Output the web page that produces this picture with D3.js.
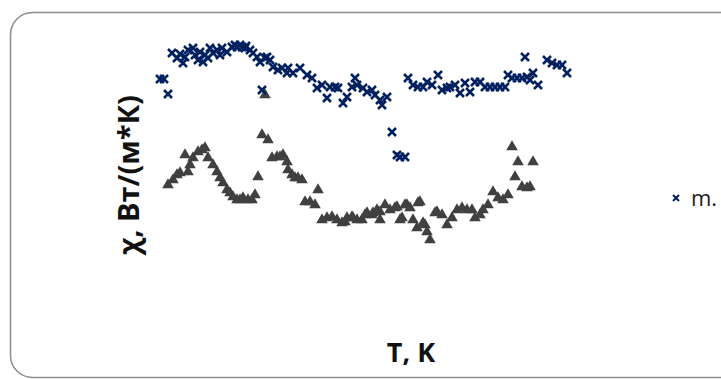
<!DOCTYPE html>
<html>
<head>
<meta charset="utf-8">
<script src="https://cdn.jsdelivr.net/npm/d3@7"></script>
<style>
  body { margin: 0; background: #fff; overflow: hidden; }
  svg { display: block; }
</style>
</head>
<body>
<div id="chart"></div>
<script>
// temperature, K and conductivity, W/(m*K)
const blueT = [230, 234, 238, 242, 247, 250, 253, 255, 258, 263,
  265, 268, 270, 273, 275, 278, 280, 283, 287, 290,
  292, 297, 302, 305, 307, 310, 312, 315, 316, 320,
  323, 327, 330, 332, 335, 337, 340, 343, 348, 352,
  357, 358, 363, 370, 377, 382, 387, 392, 397, 400,
  405, 408, 413, 417, 422, 425, 427, 433, 437, 442,
  445, 450, 452, 457, 462, 467, 470, 475, 478, 483,
  488, 493, 497, 502, 508, 512, 517, 520, 525, 530,
  535, 540, 545, 550, 555, 560, 565, 570, 575, 578,
  582, 587, 592, 595, 597, 600, 603, 608, 617, 622,
  627, 632, 637];
const blueChi = [2.51, 2.51, 2.36, 2.77, 2.72, 2.76, 2.67, 2.73, 2.80, 2.82,
  2.75, 2.70, 2.78, 2.68, 2.75, 2.72, 2.82, 2.77, 2.80, 2.75,
  2.82, 2.78, 2.83, 2.85, 2.83, 2.85, 2.83, 2.82, 2.84, 2.80,
  2.77, 2.73, 2.68, 2.40, 2.72, 2.73, 2.70, 2.63, 2.60, 2.62,
  2.57, 2.62, 2.57, 2.62, 2.55, 2.52, 2.42, 2.45, 2.32, 2.43,
  2.43, 2.42, 2.27, 2.33, 2.43, 2.52, 2.45, 2.42, 2.38, 2.40,
  2.35, 2.30, 2.25, 2.33, 1.98, 1.75, 1.73, 1.73, 2.52, 2.45,
  2.43, 2.43, 2.48, 2.45, 2.55, 2.40, 2.42, 2.43, 2.45, 2.37,
  2.47, 2.38, 2.48, 2.48, 2.43, 2.43, 2.43, 2.43, 2.43, 2.55,
  2.52, 2.52, 2.52, 2.73, 2.53, 2.50, 2.57, 2.45, 2.70, 2.67,
  2.65, 2.65, 2.57];
const grayT = [238, 243, 247, 250, 255, 258, 260, 263, 268, 272,
  275, 278, 283, 287, 290, 293, 297, 300, 303, 307,
  310, 313, 318, 322, 325, 328, 332, 335, 338, 342,
  347, 350, 353, 357, 358, 362, 365, 368, 372, 375,
  380, 385, 388, 392, 397, 402, 407, 412, 415, 417,
  422, 423, 427, 432, 435, 437, 442, 443, 447, 450,
  450, 455, 460, 465, 467, 470, 472, 475, 477, 480,
  483, 487, 488, 490, 493, 495, 497, 500, 505, 507,
  512, 517, 522, 527, 532, 537, 542, 545, 550, 553,
  558, 563, 568, 573, 578, 582, 585, 588, 592, 597,
  600, 603];
const grayChi = [1.45, 1.50, 1.55, 1.57, 1.75, 1.58, 1.65, 1.72, 1.78, 1.80,
  1.82, 1.72, 1.65, 1.58, 1.52, 1.47, 1.40, 1.37, 1.33, 1.30,
  1.30, 1.32, 1.30, 1.30, 1.35, 1.53, 1.95, 2.35, 1.90, 1.72,
  1.73, 1.73, 1.75, 1.68, 1.60, 1.55, 1.52, 1.52, 1.50, 1.28,
  1.28, 1.25, 1.40, 1.10, 1.12, 1.13, 1.10, 1.07, 1.08, 1.12,
  1.13, 1.12, 1.10, 1.10, 1.15, 1.17, 1.15, 1.17, 1.20, 1.10,
  1.18, 1.25, 1.20, 1.22, 1.23, 1.10, 1.12, 1.25, 1.25, 1.22,
  1.10, 1.02, 1.27, 1.28, 1.07, 1.05, 0.98, 0.90, 1.17, 1.18,
  1.15, 1.05, 1.12, 1.20, 1.22, 1.20, 1.20, 1.12, 1.15, 1.20,
  1.25, 1.38, 1.32, 1.30, 1.35, 1.83, 1.53, 1.68, 1.43, 1.42,
  1.43, 1.68];
const legendLabels = ["m."];

const width = 721, height = 379;

const svg = d3.select("#chart").append("svg")
  .attr("width", width)
  .attr("height", height);

// chart frame
svg.append("rect")
  .attr("x", 10.5).attr("y", 12.5)
  .attr("width", 800).attr("height", 365)
  .attr("rx", 22).attr("ry", 22)
  .attr("fill", "#fff")
  .attr("stroke", "#8c8c8c")
  .attr("stroke-width", 1.5);

const x = d3.scaleLinear().domain([200, 800]).range([130, 730]);
const y = d3.scaleLinear().domain([0, 3]).range([330, 30]);

const blue = blueT.map((t, i) => [t, blueChi[i]]);
const gray = grayT.map((t, i) => [t, grayChi[i]]);

const cross = "M-4,-4L4,4M4,-4L-4,4";

svg.append("g").selectAll("path")
  .data(gray)
  .enter()
  .append("path")
  .attr("d", d3.symbol(d3.symbolTriangle, 58))
  .attr("transform", d => `translate(${x(d[0])},${y(d[1])})`)
  .attr("fill", "#404040");

svg.append("g").selectAll("path")
  .data(blue)
  .enter()
  .append("path")
  .attr("d", cross)
  .attr("transform", d => `translate(${x(d[0])},${y(d[1])})`)
  .attr("fill", "none")
  .attr("stroke", "#002060")
  .attr("stroke-width", 2.5);

// legend, cut off by the right edge like the original
const legend = svg.append("g").attr("transform", "translate(676,198)");
legend.append("path")
  .attr("d", "M-3,-3L3,3M3,-3L-3,3")
  .attr("stroke", "#002060")
  .attr("stroke-width", 2);
legend.append("text")
  .attr("x", 15).attr("y", 8)
  .style("font-family", "Open Sans, sans-serif")
  .style("font-size", "22px")
  .attr("fill", "#222")
  .text(legendLabels[0]);

svg.append("text")
  .attr("transform", "rotate(-90)")
  .attr("x", -175)
  .attr("y", 139)
  .style("text-anchor", "middle")
  .style("font-family", "Open Sans, sans-serif")
  .style("font-weight", "bold")
  .style("font-size", "29px")
  .attr("fill", "#111")
  .text("χ, Вт/(м*К)");

svg.append("text")
  .attr("x", 411)
  .attr("y", 362)
  .style("text-anchor", "middle")
  .style("font-family", "Open Sans, sans-serif")
  .style("font-weight", "bold")
  .style("font-size", "27px")
  .attr("fill", "#111")
  .text("T, K");
</script>
</body>
</html>
